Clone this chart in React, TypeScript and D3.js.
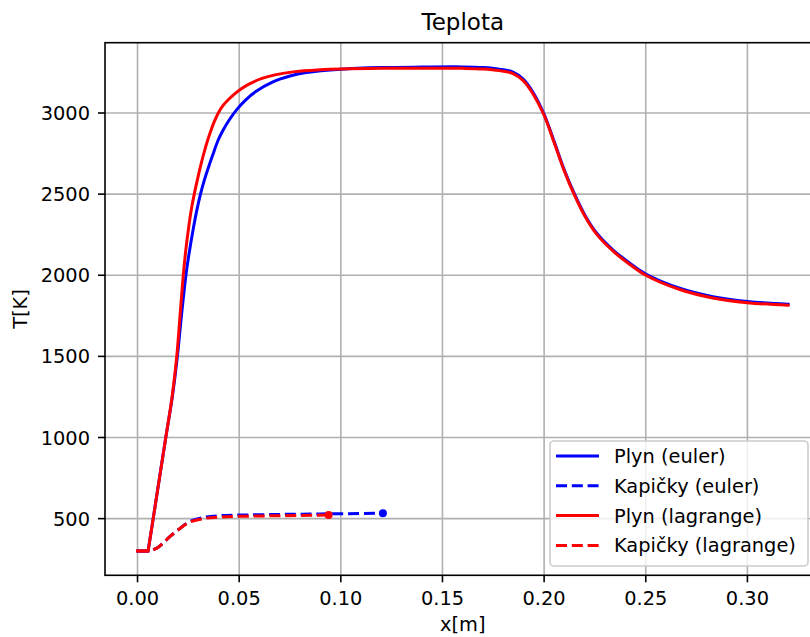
import React from "react";
import * as d3 from "d3";

// Gas temperature along the axis, Euler model
const gasEulerX = [0, 0.0052, 0.0077, 0.0139, 0.0171, 0.0196, 0.0216, 0.0238, 0.02556, 0.02729, 0.02915, 0.03097, 0.03319, 0.0355, 0.03752, 0.03963, 0.042, 0.045, 0.0489, 0.053, 0.058, 0.0666, 0.075, 0.083, 0.1, 0.12, 0.14, 0.16, 0.17, 0.178, 0.1847, 0.1896, 0.1945, 0.2, 0.205, 0.21, 0.2147, 0.22, 0.226, 0.2338, 0.242, 0.25, 0.2667, 0.283, 0.3, 0.32];
const gasEulerT = [300, 300, 500, 1000, 1250, 1500, 1750, 2000, 2150, 2278, 2400, 2500, 2600, 2688, 2760, 2832, 2892, 2955, 3022, 3078, 3131, 3192, 3228, 3249, 3270, 3280, 3283, 3284, 3280, 3270, 3252, 3210, 3128, 2992, 2822, 2647, 2507, 2372, 2257, 2157, 2076, 2008, 1920, 1868, 1838, 1822];

// Gas temperature along the axis, Lagrange model
const gasLagrX = [0, 0.0052, 0.0077, 0.0139, 0.017, 0.0193, 0.0209, 0.0225, 0.0237, 0.025, 0.0264, 0.0279, 0.0299, 0.03186, 0.03383, 0.0358, 0.03776, 0.03973, 0.042, 0.0445, 0.0475, 0.0509, 0.0553, 0.0612, 0.0676, 0.0775, 0.0898, 0.1, 0.12, 0.14, 0.16, 0.17, 0.178, 0.1847, 0.1896, 0.1945, 0.2, 0.205, 0.21, 0.2147, 0.22, 0.226, 0.2338, 0.242, 0.25, 0.2667, 0.283, 0.3, 0.32];
const gasLagrT = [300, 300, 500, 1000, 1250, 1500, 1750, 2000, 2150, 2280, 2400, 2500, 2614, 2715, 2805, 2882, 2947, 3000, 3045, 3080, 3115, 3148, 3181, 3213, 3235, 3255, 3266, 3271, 3275, 3276, 3275, 3271, 3261, 3243, 3201, 3119, 2986, 2815, 2640, 2500, 2365, 2250, 2150, 2068, 2000, 1912, 1860, 1831, 1815];

// Droplet temperature, Euler model
const dropEulerX = [0, 0.0055, 0.0095, 0.0125, 0.016, 0.0199, 0.0256, 0.0338, 0.0404, 0.05, 0.07, 0.09, 0.1207];
const dropEulerT = [300, 300, 318, 349, 390, 430, 481, 510, 518, 522, 526, 529, 533];

// Droplet temperature, Lagrange model
const dropLagrX = [0, 0.0055, 0.0095, 0.0125, 0.016, 0.0199, 0.0256, 0.0338, 0.0404, 0.05, 0.07, 0.094];
const dropLagrT = [300, 300, 318, 349, 390, 430, 478, 503, 510, 514, 518, 522];

const xTicks = [0, 0.05, 0.1, 0.15, 0.2, 0.25, 0.3];
const yTicks = [500, 1000, 1500, 2000, 2500, 3000];

const legendLabels = ["Plyn (euler)", "Kapičky (euler)", "Plyn (lagrange)", "Kapičky (lagrange)"];

const W = 810;
const H = 637;
const left = 105;
const right = 820.6;
const top = 42.7;
const bottom = 575.3;
const FONT = "DejaVu Sans, sans-serif";
const FS = 19.4;
const BLUE = "#0000ff";
const RED = "#ff0000";
const DASH = "11,4.8";

type Pt = [number, number];
const zip = (xs: number[], ys: number[]) => xs.map((x, i) => [x, ys[i]] as Pt);

export default function App() {
  const allX = [...gasEulerX, ...gasLagrX, ...dropEulerX, ...dropLagrX];
  const allT = [...gasEulerT, ...gasLagrT, ...dropEulerT, ...dropLagrT];
  const [x0, x1] = d3.extent(allX) as [number, number];
  const [t0, t1] = d3.extent(allT) as [number, number];
  const mx = (x1 - x0) * 0.05;
  const mt = (t1 - t0) * 0.05;

  const x = d3.scaleLinear().domain([x0 - mx, x1 + mx]).range([left, right]);
  const y = d3.scaleLinear().domain([t0 - mt, t1 + mt]).range([bottom, top]);

  const straight = d3
    .line<Pt>()
    .x((d) => x(d[0]))
    .y((d) => y(d[1]));
  const smooth = d3
    .line<Pt>()
    .x((d) => x(d[0]))
    .y((d) => y(d[1]))
    .curve(d3.curveCatmullRom.alpha(0.5));

  // Inlet section (constant 300 K) is straight; the rest is a smooth curve
  const profile = (pts: Pt[]) => {
    const a = straight(pts.slice(0, 2)) || "";
    const b = smooth(pts.slice(1)) || "";
    return a + b.replace(/^M[^A-Za-z]*/, "");
  };

  const series = [
    { pts: zip(gasEulerX, gasEulerT), color: BLUE, dashed: false },
    { pts: zip(dropEulerX, dropEulerT), color: BLUE, dashed: true },
    { pts: zip(gasLagrX, gasLagrT), color: RED, dashed: false },
    { pts: zip(dropLagrX, dropLagrT), color: RED, dashed: true },
  ];

  const legX = 550;
  const legY = 441;
  const legW = 258;
  const legH = 125;
  const rowY = (i: number) => 456 + i * 29.8;

  return (
    <svg
      width={W}
      height={H}
      style={{ position: "absolute", left: 0, top: 0, background: "#fff" }}
      fontFamily={FONT}
    >
      <defs>
        <clipPath id="plotArea">
          <rect x={left} y={top} width={right - left} height={bottom - top} />
        </clipPath>
      </defs>
      <rect x={0} y={0} width={W} height={H} fill="#fff" />

      {/* grid */}
      {xTicks.map((t) => (
        <line key={"gx" + t} x1={x(t)} x2={x(t)} y1={top} y2={bottom} stroke="#b0b0b0" strokeWidth={1.6} />
      ))}
      {yTicks.map((t) => (
        <line key={"gy" + t} x1={left} x2={right} y1={y(t)} y2={y(t)} stroke="#b0b0b0" strokeWidth={1.6} />
      ))}

      {/* data */}
      <g clipPath="url(#plotArea)">
        {series.map((s, i) => (
          <path
            key={i}
            d={profile(s.pts)}
            fill="none"
            stroke={s.color}
            strokeWidth={3}
            strokeDasharray={s.dashed ? DASH : undefined}
            strokeLinecap={s.dashed ? "butt" : "square"}
            strokeLinejoin="miter"
          />
        ))}
        {series
          .filter((s) => s.dashed)
          .map((s, i) => {
            const last = s.pts[s.pts.length - 1];
            return <circle key={"m" + i} cx={x(last[0])} cy={y(last[1])} r={4} fill={s.color} />;
          })}
      </g>

      {/* spines */}
      <rect x={left} y={top} width={right - left} height={bottom - top} fill="none" stroke="#000" strokeWidth={1.6} />

      {/* x axis ticks */}
      {xTicks.map((t) => (
        <g key={"xt" + t}>
          <line x1={x(t)} x2={x(t)} y1={bottom} y2={bottom + 7} stroke="#000" strokeWidth={1.6} />
          <text x={x(t)} y={605} textAnchor="middle" fontSize={FS} fill="#000">
            {t.toFixed(2)}
          </text>
        </g>
      ))}
      {/* y axis ticks */}
      {yTicks.map((t) => (
        <g key={"yt" + t}>
          <line x1={left - 7} x2={left} y1={y(t)} y2={y(t)} stroke="#000" strokeWidth={1.6} />
          <text x={90} y={y(t) + 7} textAnchor="end" fontSize={FS} fill="#000">
            {t}
          </text>
        </g>
      ))}

      {/* labels */}
      <text x={(left + right) / 2} y={631} textAnchor="middle" fontSize={FS} fill="#000">
        x[m]
      </text>
      <text
        transform={`translate(27, ${(top + bottom) / 2}) rotate(-90)`}
        textAnchor="middle"
        fontSize={FS}
        fill="#000"
      >
        T[K]
      </text>
      <text x={(left + right) / 2} y={29.5} textAnchor="middle" fontSize={23} fill="#000">
        Teplota
      </text>

      {/* legend */}
      <rect
        x={legX}
        y={legY}
        width={legW}
        height={legH}
        rx={4}
        ry={4}
        fill="#fff"
        fillOpacity={0.8}
        stroke="#cccccc"
        strokeWidth={1.6}
      />
      {series.map((s, i) => (
        <g key={"lg" + i}>
          <line
            x1={556}
            x2={599}
            y1={rowY(i)}
            y2={rowY(i)}
            stroke={s.color}
            strokeWidth={3}
            strokeDasharray={s.dashed ? DASH : undefined}
          />
          <text x={614} y={rowY(i) + 7} fontSize={FS} fill="#000">
            {legendLabels[i]}
          </text>
        </g>
      ))}
    </svg>
  );
}
